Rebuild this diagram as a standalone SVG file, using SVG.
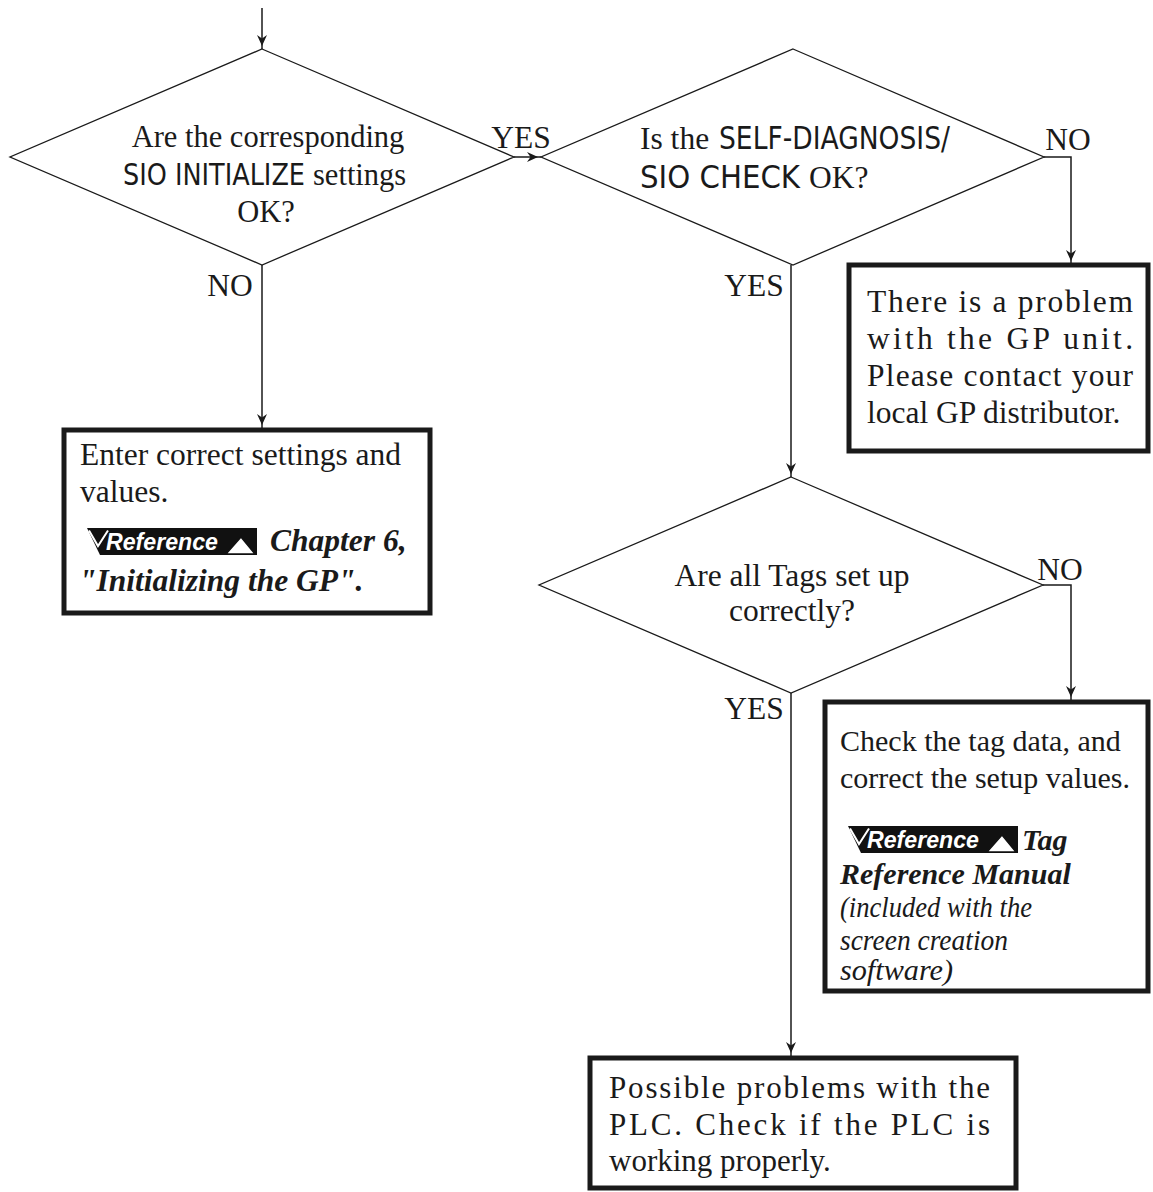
<svg xmlns="http://www.w3.org/2000/svg" width="1153" height="1192" viewBox="0 0 1153 1192">
<style>
.bg{fill:#fff}
.dia{fill:none;stroke:#1a1a1a;stroke-width:1.3}
.box{fill:#fff;stroke:#1a1a1a;stroke-width:5}
.con{fill:none;stroke:#1a1a1a;stroke-width:1.5}
.t{font-family:"Liberation Serif","Times New Roman",serif;font-size:31.5px;fill:#1a1a1a}
.c{font-family:"Liberation Sans Narrow","DejaVu Sans Condensed","Arial Narrow",sans-serif;font-stretch:condensed;font-size:31.5px;fill:#1a1a1a}
.bi{font-weight:bold;font-style:italic}
.i{font-style:italic}
.badge{font-family:"Liberation Sans","Arial",sans-serif;font-weight:bold;font-style:italic;font-size:23px;fill:#fff}
</style>
<defs>
<marker id="ah" viewBox="0 0 15 10" refX="14" refY="5" markerWidth="15" markerHeight="10" markerUnits="userSpaceOnUse" orient="auto">
<path d="M0,0 L11,5 L0,10 L3.5,5 Z" fill="#1a1a1a"/>
</marker>
<g id="badgeShape">
<path d="M0,0 H170 V27 H13 Z" fill="#111"/>
<path d="M2,2.5 L11,18 L21,2.5" fill="none" stroke="#fff" stroke-width="2"/>
<path d="M139,26 L154,9 L168,26 Z" fill="#fff" stroke="#111" stroke-width="1.5"/>
</g>
</defs>
<rect class="bg" width="1153" height="1192"/>

<g id="connectors">
<line class="con" x1="262" y1="8" x2="262" y2="49" marker-end="url(#ah)"/>
<line class="con" x1="514" y1="157" x2="541" y2="157" marker-end="url(#ah)"/>
<line class="con" x1="262" y1="265" x2="262" y2="428" marker-end="url(#ah)"/>
<polyline class="con" points="1044,157 1071,157 1071,264" marker-end="url(#ah)"/>
<line class="con" x1="791" y1="265" x2="791" y2="477" marker-end="url(#ah)"/>
<polyline class="con" points="1043,585 1071,585 1071,700" marker-end="url(#ah)"/>
<line class="con" x1="791" y1="693" x2="791" y2="1056" marker-end="url(#ah)"/>
<text class="t" x="521" y="148" text-anchor="middle">YES</text>
<text class="t" x="230" y="296" text-anchor="middle">NO</text>
<text class="t" x="1068" y="150" text-anchor="middle">NO</text>
<text class="t" x="754" y="296" text-anchor="middle">YES</text>
<text class="t" x="1060" y="580" text-anchor="middle">NO</text>
<text class="t" x="754" y="719" text-anchor="middle">YES</text>
</g>

<g id="d1">
<polygon class="dia" points="262,49 514,157 262,265 10,157"/>
<text class="t" x="268" y="147" text-anchor="middle" style="font-size:30.5px">Are the corresponding</text>
<text class="c" x="123" y="185" style="font-size:30.5px" textLength="182" lengthAdjust="spacingAndGlyphs">SIO INITIALIZE</text>
<text class="t" x="313" y="185" style="font-size:30.5px">settings</text>
<text class="t" x="266" y="222" text-anchor="middle" style="font-size:30.5px">OK?</text>
</g>

<g id="d2">
<polygon class="dia" points="793,49 1044,157 793,265 541,157"/>
<text class="t" x="640" y="149">Is the</text>
<text class="c" x="719" y="149" textLength="231" lengthAdjust="spacingAndGlyphs">SELF-DIAGNOSIS/</text>
<text class="c" x="640" y="188" textLength="160" lengthAdjust="spacingAndGlyphs">SIO CHECK</text>
<text class="t" x="809" y="188">OK?</text>
</g>

<g id="d3">
<polygon class="dia" points="791,477 1043,585 791,693 539,585"/>
<text class="t" x="792" y="586" text-anchor="middle">Are all Tags set up</text>
<text class="t" x="792" y="621" text-anchor="middle">correctly?</text>
</g>

<g id="b-gp">
<rect class="box" x="849" y="265" width="299" height="186"/>
<text class="t" x="867" y="312" textLength="266" lengthAdjust="spacing">There is a problem</text>
<text class="t" x="867" y="349" textLength="266" lengthAdjust="spacing">with the GP unit.</text>
<text class="t" x="867" y="386" textLength="266" lengthAdjust="spacing">Please contact your</text>
<text class="t" x="867" y="423">local GP distributor.</text>
</g>

<g id="b-settings">
<rect class="box" x="64" y="430" width="366" height="183"/>
<text class="t" x="80" y="465">Enter correct settings and</text>
<text class="t" x="80" y="502">values.</text>
<use href="#badgeShape" x="87" y="528"/>
<text class="badge" x="106" y="550" textLength="112" lengthAdjust="spacingAndGlyphs">Reference</text>
<text class="t bi" x="270" y="551">Chapter 6,</text>
<text class="t bi" x="79" y="591">"Initializing the GP".</text>
</g>

<g id="b-tag">
<rect class="box" x="825" y="702" width="323" height="289"/>
<text class="t" x="840" y="751" style="font-size:30px">Check the tag data, and</text>
<text class="t" x="840" y="788" style="font-size:30px">correct the setup values.</text>
<use href="#badgeShape" x="848" y="826"/>
<text class="badge" x="867" y="848" textLength="112" lengthAdjust="spacingAndGlyphs">Reference</text>
<text class="t bi" x="1022" y="850" style="font-size:30px">Tag</text>
<text class="t bi" x="840" y="884" style="font-size:30px">Reference Manual</text>
<text class="t i" x="840" y="917" style="font-size:29px" textLength="192" lengthAdjust="spacingAndGlyphs">(included with the</text>
<text class="t i" x="840" y="950" style="font-size:29px" textLength="168" lengthAdjust="spacingAndGlyphs">screen creation</text>
<text class="t i" x="840" y="980" style="font-size:29px" textLength="113" lengthAdjust="spacingAndGlyphs">software)</text>
</g>

<g id="b-plc">
<rect class="box" x="590" y="1058" width="426" height="130"/>
<text class="t" x="609" y="1098" textLength="381" lengthAdjust="spacing" style="font-size:31px">Possible problems with the</text>
<text class="t" x="609" y="1135" textLength="381" lengthAdjust="spacing" style="font-size:31px">PLC. Check if the PLC is</text>
<text class="t" x="609" y="1171" style="font-size:31px">working properly.</text>
</g>
</svg>
